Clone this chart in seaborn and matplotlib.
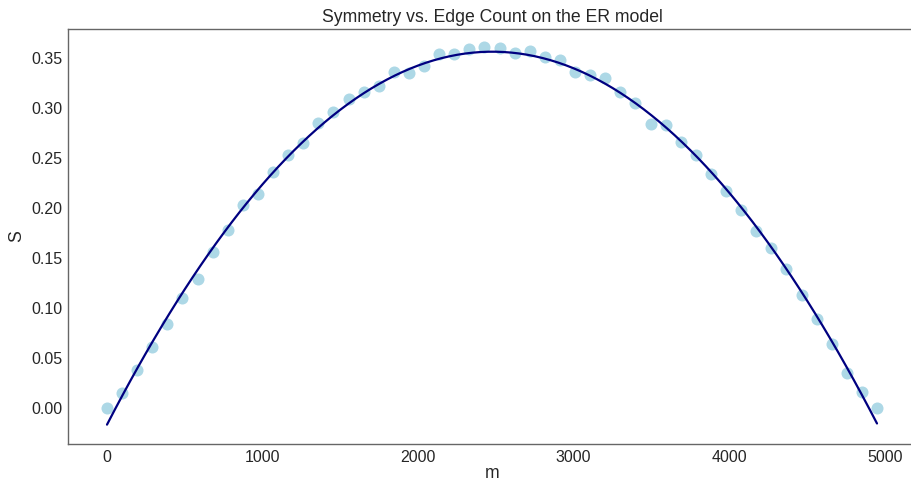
import matplotlib
matplotlib.use("Agg")
import matplotlib.pyplot as plt
import seaborn as sns
import pandas as pd

m_values = [0, 97, 194, 291, 388, 485, 582, 679, 776, 874, 971, 1068, 1165, 1262,
            1359, 1456, 1553, 1650, 1747, 1844, 1941, 2038, 2135, 2232, 2329, 2426,
            2524, 2621, 2718, 2815, 2912, 3009, 3106, 3203, 3300, 3397, 3494, 3591,
            3688, 3785, 3882, 3979, 4076, 4174, 4271, 4368, 4465, 4562, 4659, 4756,
            4853, 4950]
s_values = [0.000, 0.015, 0.038, 0.061, 0.084, 0.110, 0.129, 0.156, 0.178, 0.203,
            0.214, 0.236, 0.253, 0.265, 0.285, 0.296, 0.309, 0.316, 0.322, 0.336,
            0.335, 0.342, 0.354, 0.354, 0.359, 0.361, 0.360, 0.355, 0.357, 0.351,
            0.348, 0.336, 0.333, 0.330, 0.316, 0.305, 0.284, 0.283, 0.266, 0.253,
            0.234, 0.217, 0.198, 0.177, 0.160, 0.139, 0.113, 0.089, 0.064, 0.035,
            0.016, 0.000]

df = pd.DataFrame({"m": m_values, "S": s_values})

sns.set_theme(style="white")
plt.rcParams["font.family"] = ["Liberation Sans", "DejaVu Sans"]

fig = plt.figure(figsize=(9.12, 4.83), dpi=100)
ax = fig.add_axes([68.5 / 912, 1 - 443.5 / 483, (915.5 - 68.5) / 912, (443.5 - 28.5) / 483])

sns.regplot(data=df, x="m", y="S", order=2, ci=None, ax=ax,
            scatter_kws={"s": 75, "color": "lightblue", "alpha": 1, "linewidths": 0},
            line_kws={"color": "navy", "lw": 1.6})

ax.set_title("Symmetry vs. Edge Count on the ER model", fontsize=12.7, color="#262626", pad=5)
ax.set_xlabel("m", fontsize=12.7, color="#262626", labelpad=0.5)
ax.set_ylabel("S", fontsize=12.7, color="#262626", labelpad=4)
ax.tick_params(labelsize=11.5, colors="#262626", length=0, pad=4.5)
for sp in ax.spines.values():
    sp.set_color("#666666")
    sp.set_linewidth(1.0)

fig.savefig("out.png", dpi=100)
